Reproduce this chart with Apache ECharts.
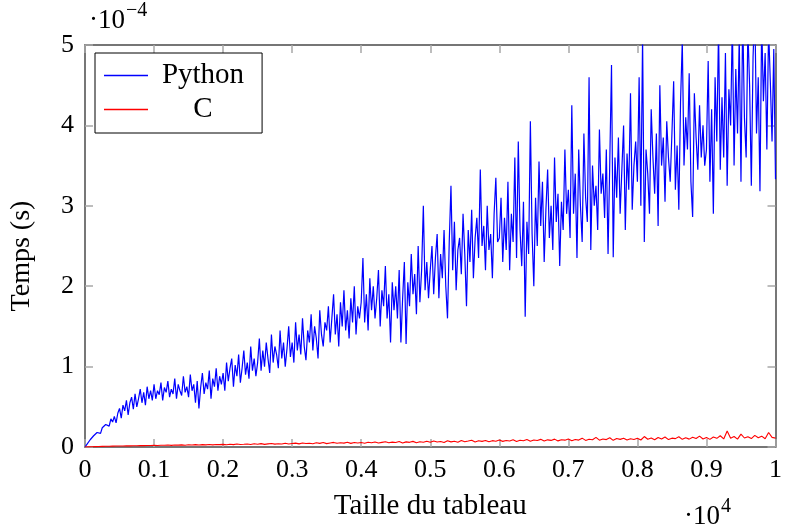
<!DOCTYPE html>
<html>
<head>
<meta charset="utf-8">
<script src="https://cdn.jsdelivr.net/npm/echarts@6/dist/echarts.min.js"></script>
<style>
html,body{margin:0;padding:0;background:#fff;}
#chart{width:785px;height:526px;}
</style>
</head>
<body>
<div id="chart"></div>
<script>
// Array sizes in units of 10^4, times in units of 10^-4 s
var sizeMax = 1; // x 10^4
var xTicks = ['0','0.1','0.2','0.3','0.4','0.5','0.6','0.7','0.8','0.9','1'];
var yTicks = ['0','1','2','3','4','5'];

var pythonTimes = [
  0, 0.03, 0.05, 0.09, 0.1, 0.14, 0.13, 0.18, 0.2, 0.17, 0.24, 0.22, 0.28, 0.3, 0.26, 0.35, 0.31, 0.38, 0.3, 0.42,
  0.48, 0.36, 0.52, 0.45, 0.58, 0.4, 0.55, 0.62, 0.47, 0.66, 0.5, 0.6, 0.72, 0.55, 0.68, 0.52, 0.75, 0.6, 0.7, 0.58,
  0.78, 0.6, 0.7, 0.65, 0.8, 0.58, 0.74, 0.68, 0.82, 0.62, 0.72, 0.66, 0.85, 0.6, 0.78, 0.7, 0.64, 0.88, 0.68, 0.75,
  0.62, 0.9, 0.7, 0.78, 0.55, 0.82, 0.48, 0.74, 0.92, 0.66, 0.8, 0.72, 0.95, 0.6, 0.85, 0.75, 0.98, 0.7, 0.88, 0.78,
  0.92, 0.7, 1.05, 0.82, 0.98, 1.1, 0.75, 1.02, 0.88, 1.15, 0.8, 0.98, 1.2, 0.9, 1.05, 0.85, 1.25, 0.95, 1.1, 0.88,
  1.05, 1.35, 0.95, 1.2, 1.0, 1.3, 1.1, 0.92, 1.4, 1.05, 1.25, 1.15, 0.98, 1.45, 1.1, 1.3, 1.0, 1.22, 1.5, 1.12,
  1.3, 1.05, 1.55, 1.2, 1.4, 1.15, 1.6, 1.25, 1.08, 1.45, 1.3, 1.65, 1.2, 1.5, 1.35, 1.1, 1.7, 1.4, 1.25, 1.55,
  1.45, 1.75, 1.3, 1.6, 1.9, 1.4, 1.65, 1.25, 1.8, 1.5, 1.95, 1.45, 1.7, 1.35, 1.85, 1.55, 2.0, 1.4, 1.75, 1.6,
  1.8, 2.35, 1.55, 1.9, 1.45, 2.1, 1.7, 2.0, 1.6, 1.85, 2.2, 1.5, 1.95, 1.75, 2.25, 1.6, 1.9, 1.3, 2.05, 1.7,
  2.0, 1.6, 2.2, 1.3, 1.85, 2.3, 1.28, 2.05, 1.75, 2.4, 1.9, 2.15, 1.65, 2.5, 1.8, 2.2, 3.0, 1.95, 2.3, 1.85,
  2.2, 2.5, 1.9, 2.35, 2.65, 1.85, 2.4, 2.1, 2.7, 2.0, 1.6, 2.55, 3.25, 2.2, 2.8, 1.95, 2.45, 2.6, 2.15, 2.9,
  2.4, 1.75, 2.7, 2.3, 2.95, 2.1, 2.6, 2.85, 2.35, 3.45, 2.5, 2.75, 2.2, 3.0, 2.45, 2.65, 2.1, 2.9, 3.35, 2.55,
  2.6, 3.1, 2.3, 2.85, 2.45, 3.3, 2.2, 2.9, 2.55, 3.6, 2.35, 3.8, 2.7, 2.25, 3.05, 1.62, 2.8, 2.4, 4.05, 2.65,
  2.0, 3.1, 2.5, 3.55, 2.75, 3.3, 2.3, 2.95, 3.45, 2.6, 3.0, 2.45, 3.6, 2.8, 3.15, 2.25, 3.05, 2.7, 3.7, 2.9,
  3.2, 2.6, 4.25, 2.9, 3.4, 2.35, 3.7, 3.0, 2.55, 3.9, 3.1, 2.8, 4.6, 2.45, 3.5, 3.0, 3.25, 2.7, 3.95, 3.15,
  3.4, 2.85, 3.7, 2.4, 3.55, 4.75, 2.36, 3.6, 3.1, 3.85, 2.9, 3.45, 4.0, 2.7, 3.65, 3.2, 4.4, 2.95, 3.5, 3.8,
  3.3, 4.6, 3.0, 5.1, 2.55, 3.7, 3.4, 2.9, 4.2, 3.6, 3.15, 3.9, 2.75, 4.5, 3.5, 3.85, 3.05, 4.05, 3.6, 3.3,
  3.9, 4.55, 3.2, 3.75, 2.95, 4.3, 5.05, 3.5, 4.1, 3.7, 4.65, 3.3, 2.86, 4.4, 3.85, 3.45, 4.25, 3.6, 4.0, 3.5,
  3.7, 4.8, 3.3, 4.2, 2.9, 4.6, 3.8, 5.2, 3.45, 4.35, 3.6, 4.9, 3.25, 4.45, 4.0, 5.3, 3.5, 4.7, 3.9, 5.1,
  3.3, 5.4, 4.1, 3.6, 5.2, 4.5, 3.25, 4.85, 5.5, 3.9, 4.6, 3.18, 5.3, 4.3, 4.9, 3.7, 5.2, 4.55, 3.8, 4.95,
  3.33
];

var cTimes = [
  0, 0.002, 0.004, 0.005, 0.006, 0.008, 0.009, 0.01, 0.011, 0.012, 0.013, 0.012, 0.015, 0.014, 0.016, 0.015, 0.018, 0.017, 0.019, 0.018,
  0.02, 0.019, 0.022, 0.021, 0.024, 0.02, 0.025, 0.023, 0.027, 0.022, 0.028, 0.025, 0.03, 0.024, 0.029, 0.027, 0.032, 0.026, 0.031, 0.029,
  0.033, 0.028, 0.035, 0.03, 0.037, 0.032, 0.034, 0.038, 0.031, 0.04, 0.035, 0.042, 0.033, 0.039, 0.044, 0.036, 0.041, 0.038, 0.046, 0.037,
  0.043, 0.048, 0.039, 0.05, 0.044, 0.047, 0.041, 0.052, 0.045, 0.055, 0.042, 0.05, 0.057, 0.046, 0.053, 0.048, 0.058, 0.045, 0.055, 0.05,
  0.056, 0.047, 0.06, 0.052, 0.063, 0.05, 0.058, 0.066, 0.053, 0.061, 0.055, 0.068, 0.05, 0.064, 0.058, 0.07, 0.054, 0.066, 0.06, 0.072,
  0.058, 0.075, 0.062, 0.069, 0.055, 0.078, 0.064, 0.071, 0.06, 0.08, 0.066, 0.074, 0.085, 0.063, 0.077, 0.07, 0.082, 0.065, 0.079, 0.072,
  0.086, 0.07, 0.081, 0.075, 0.09, 0.068, 0.084, 0.077, 0.093, 0.072, 0.087, 0.08, 0.095, 0.074, 0.089, 0.082, 0.098, 0.076, 0.091, 0.085,
  0.1, 0.078, 0.094, 0.086, 0.11, 0.082, 0.097, 0.09, 0.12, 0.085, 0.1, 0.092, 0.115, 0.083, 0.105, 0.095, 0.11, 0.088, 0.102, 0.094,
  0.108, 0.087, 0.13, 0.096, 0.112, 0.09, 0.118, 0.1, 0.125, 0.092, 0.11, 0.104, 0.128, 0.095, 0.115, 0.098, 0.122, 0.105, 0.135, 0.1,
  0.118, 0.095, 0.125, 0.108, 0.14, 0.1, 0.2, 0.11, 0.13, 0.098, 0.16, 0.112, 0.128, 0.105, 0.145, 0.115, 0.135, 0.102, 0.18, 0.12,
  0.11
];

function toPairs(values) {
  var n = values.length;
  return values.map(function (v, i) { return [sizeMax * i / (n - 1), v]; });
}

var FONT = '"Liberation Serif", "Times New Roman", serif';
var frameColor = '#4a4a4a';
var tickStyle = { show: true, inside: true, length: 8, lineStyle: { color: '#a8a8a8', width: 1.5 } };

var chart = echarts.init(document.getElementById('chart'), null, { renderer: 'canvas' });

var option = {
  animation: false,
  backgroundColor: '#fff',
  grid: { left: 81, right: 7, top: 45, bottom: 77, containLabel: false },
  legend: {
    orient: 'vertical',
    left: 95, top: 53,
    backgroundColor: '#fff',
    borderColor: '#000', borderWidth: 1,
    padding: [8, 18, 9, 9],
    itemGap: 5,
    icon: 'rect',
    itemWidth: 44, itemHeight: 1.3,
    data: ['Python', 'C'],
    formatter: function (name) { return '{a|' + name + '}'; },
    textStyle: {
      fontFamily: FONT, fontSize: 29, color: '#000',
      rich: { a: { fontFamily: FONT, fontSize: 29, color: '#000', width: 100, align: 'center' } }
    }
  },
  xAxis: [{
    type: 'value', min: 0, max: 1, interval: 0.1, position: 'bottom',
    axisLine: { show: true, onZero: false, lineStyle: { color: frameColor, width: 1.5 } },
    axisTick: tickStyle,
    splitLine: { show: false },
    axisLabel: {
      margin: 10, fontFamily: FONT, fontSize: 26, color: '#000',
      formatter: function (v) { return xTicks[Math.round(v * 10)]; }
    },
    name: 'Taille du tableau', nameLocation: 'middle', nameGap: 45,
    nameTextStyle: { fontFamily: FONT, fontSize: 29, color: '#000' }
  }, {
    type: 'value', min: 0, max: 1, interval: 0.1, position: 'top',
    axisLine: { show: true, onZero: false, lineStyle: { color: frameColor, width: 1.5 } },
    axisTick: tickStyle, axisLabel: { show: false }, splitLine: { show: false }
  }],
  yAxis: [{
    type: 'value', min: 0, max: 5, interval: 1, position: 'left',
    axisLine: { show: true, onZero: false, lineStyle: { color: frameColor, width: 1.5 } },
    axisTick: tickStyle,
    splitLine: { show: false },
    axisLabel: {
      margin: 11, fontFamily: FONT, fontSize: 26, color: '#000',
      formatter: function (v) { return yTicks[Math.round(v)]; }
    },
    name: 'Temps (s)', nameLocation: 'middle', nameGap: 49,
    nameTextStyle: { fontFamily: FONT, fontSize: 28, color: '#000', padding: [0, 20, 0, 0] }
  }, {
    type: 'value', min: 0, max: 5, interval: 1, position: 'right',
    axisLine: { show: true, onZero: false, lineStyle: { color: frameColor, width: 1.5 } },
    axisTick: tickStyle, axisLabel: { show: false }, splitLine: { show: false }
  }],
  graphic: [{
    type: 'text', left: 89, top: 1,
    style: {
      text: '{a|·10}{b|−4}',
      rich: {
        a: { fontFamily: FONT, fontSize: 27, color: '#000', padding: [10, 0, 0, 0] },
        b: { fontFamily: FONT, fontSize: 20, color: '#000', padding: [0, 0, 10, 1] }
      }
    }
  }, {
    type: 'text', left: 684, top: 497,
    style: {
      text: '{a|·10}{b|4}',
      rich: {
        a: { fontFamily: FONT, fontSize: 27, color: '#000', padding: [10, 0, 0, 0] },
        b: { fontFamily: FONT, fontSize: 20, color: '#000', padding: [0, 0, 10, 1] }
      }
    }
  }],
  series: [{
    name: 'Python', type: 'line', xAxisIndex: 0, yAxisIndex: 0,
    data: toPairs(pythonTimes),
    symbol: 'none', showSymbol: false, clip: true,
    lineStyle: { color: '#0000ff', width: 1.2 },
    itemStyle: { color: '#0000ff' }
  }, {
    name: 'C', type: 'line', xAxisIndex: 0, yAxisIndex: 0,
    data: toPairs(cTimes),
    symbol: 'none', showSymbol: false, clip: true,
    lineStyle: { color: '#ff0000', width: 1.1 },
    itemStyle: { color: '#ff0000' }
  }]
};
chart.setOption(option);
</script>
</body>
</html>
